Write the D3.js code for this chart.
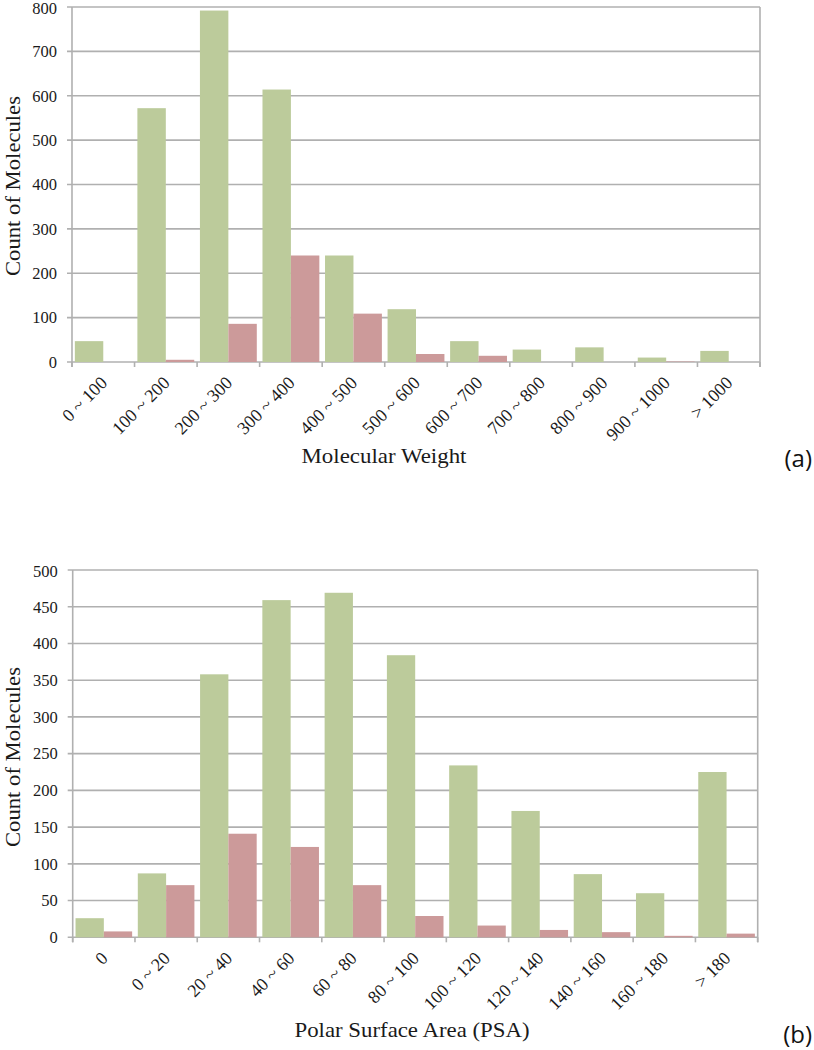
<!DOCTYPE html>
<html>
<head>
<meta charset="utf-8">
<script src="https://cdn.jsdelivr.net/npm/d3@7"></script>
<style>
  html, body { margin: 0; padding: 0; background: #fff; }
  svg { display: block; }
</style>
</head>
<body>
<svg id="chart" width="814" height="1050"></svg>
<script>
// ---- Data: (a) Molecular Weight ----
const mwCategories = ["0 ~ 100", "100 ~ 200", "200 ~ 300", "300 ~ 400", "400 ~ 500", "500 ~ 600", "600 ~ 700", "700 ~ 800", "800 ~ 900", "900 ~ 1000", "> 1000"];
const mwGreen = [47, 572, 792, 614, 240, 119, 47, 28, 33, 10, 25];
const mwRed   = [0, 5, 86, 240, 109, 18, 14, 0, 0, 1, 0];
const mwTicks = [0, 100, 200, 300, 400, 500, 600, 700, 800];

// ---- Data: (b) Polar Surface Area ----
const psaCategories = ["0", "0 ~ 20", "20 ~ 40", "40 ~ 60", "60 ~ 80", "80 ~ 100", "100 ~ 120", "120 ~ 140", "140 ~ 160", "160 ~ 180", "> 180"];
const psaGreen = [26, 87, 358, 459, 469, 384, 234, 172, 86, 60, 225];
const psaRed   = [8, 71, 141, 123, 71, 29, 16, 10, 7, 2, 5];
const psaTicks = [0, 50, 100, 150, 200, 250, 300, 350, 400, 450, 500];

const seriesKeys = ["green", "red"];
const colors = { green: "#bccb9b", red: "#cc9a9a" };
const gridColor = "#b0b0b0";
const textColor = "#1a1a1a";
const serif = "'Liberation Serif', 'Times New Roman', serif";

const svg = d3.select("#chart");

function drawChart(cfg) {
  const g = svg.append("g");
  const data = cfg.categories.map((c, i) => ({ cat: c, green: cfg.green[i], red: cfg.red[i] }));

  const x = d3.scaleBand().domain(cfg.categories).range([cfg.left, cfg.right]).paddingInner(0).paddingOuter(0);
  const xInner = d3.scaleBand().domain(seriesKeys).range([0, x.bandwidth()]).paddingInner(0).paddingOuter(0.1);
  const y = d3.scaleLinear().domain([0, cfg.max]).range([cfg.bottom, cfg.top]);

  // gridlines
  g.append("g").selectAll("line").data(cfg.ticks).join("line")
    .attr("x1", cfg.left - 5).attr("x2", cfg.right)
    .attr("y1", d => y(d)).attr("y2", d => y(d))
    .attr("stroke", gridColor).attr("stroke-width", 1.6);

  // right border
  g.append("line").attr("x1", cfg.right).attr("x2", cfg.right)
    .attr("y1", cfg.top).attr("y2", cfg.bottom + 5)
    .attr("stroke", gridColor).attr("stroke-width", 1.6);

  // bars
  const groups = g.append("g").selectAll("g").data(data).join("g")
    .attr("transform", d => `translate(${x(d.cat)},0)`);
  groups.selectAll("rect").data(d => seriesKeys.map(k => ({ key: k, value: d[k] }))).join("rect")
    .attr("x", d => xInner(d.key))
    .attr("width", xInner.bandwidth())
    .attr("y", d => y(d.value))
    .attr("height", d => y(0) - y(d.value))
    .attr("fill", d => colors[d.key]);

  // left axis line
  g.append("line").attr("x1", cfg.left).attr("x2", cfg.left)
    .attr("y1", cfg.top).attr("y2", cfg.bottom + 5)
    .attr("stroke", gridColor).attr("stroke-width", 1.6);

  // x axis ticks at category boundaries
  const bounds = cfg.categories.map(c => x(c)).concat([cfg.right]);
  g.append("g").selectAll("line").data(bounds).join("line")
    .attr("x1", d => d).attr("x2", d => d)
    .attr("y1", cfg.bottom).attr("y2", cfg.bottom + 5)
    .attr("stroke", gridColor).attr("stroke-width", 1.6);

  // y tick labels
  g.append("g").selectAll("text").data(cfg.ticks).join("text")
    .attr("x", cfg.left - 15).attr("y", d => y(d) + (d === cfg.max ? 1.5 : 0))
    .attr("dy", "0.35em")
    .attr("text-anchor", "end")
    .attr("font-family", serif).attr("font-size", 16.5)
    .attr("fill", textColor)
    .text(d => d);

  // x tick labels rotated
  g.append("g").selectAll("text").data(cfg.categories).join("text")
    .attr("transform", d => `translate(${x(d) + x.bandwidth() / 2 + 5},${cfg.bottom + 22}) rotate(-45)`)
    .attr("text-anchor", "end")
    .attr("font-family", serif).attr("font-size", 18)
    .attr("fill", textColor)
    .text(d => d);

  // y axis title
  g.append("text")
    .attr("transform", `translate(20,${cfg.yTitleY}) rotate(-90)`)
    .attr("text-anchor", "middle")
    .attr("font-family", serif).attr("font-size", 21)
    .attr("textLength", 180).attr("lengthAdjust", "spacingAndGlyphs")
    .attr("fill", textColor)
    .text("Count of Molecules");

  // x axis title
  g.append("text")
    .attr("x", cfg.xTitleX).attr("y", cfg.xTitleY)
    .attr("text-anchor", "middle")
    .attr("font-family", serif).attr("font-size", 22)
    .attr("textLength", cfg.xTitleLen).attr("lengthAdjust", "spacingAndGlyphs")
    .attr("fill", textColor)
    .text(cfg.xTitle);

  // panel label
  g.append("text")
    .attr("x", 812).attr("y", cfg.panelY)
    .attr("text-anchor", "end")
    .attr("font-family", "'Open Sans', 'Noto Sans', sans-serif").attr("font-size", 24)
    .attr("fill", "#111")
    .text(cfg.panel);
}

drawChart({
  categories: mwCategories, green: mwGreen, red: mwRed, ticks: mwTicks, max: 800,
  left: 72, right: 760, top: 7, bottom: 362,
  yTitleY: 186, xTitle: "Molecular Weight", xTitleX: 384, xTitleY: 463, xTitleLen: 165,
  panel: "(a)", panelY: 467
});

drawChart({
  categories: psaCategories, green: psaGreen, red: psaRed, ticks: psaTicks, max: 500,
  left: 72.7, right: 757.7, top: 570, bottom: 937.3,
  yTitleY: 757, xTitle: "Polar Surface Area (PSA)", xTitleX: 412, xTitleY: 1037, xTitleLen: 235,
  panel: "(b)", panelY: 1043
});
</script>
</body>
</html>
